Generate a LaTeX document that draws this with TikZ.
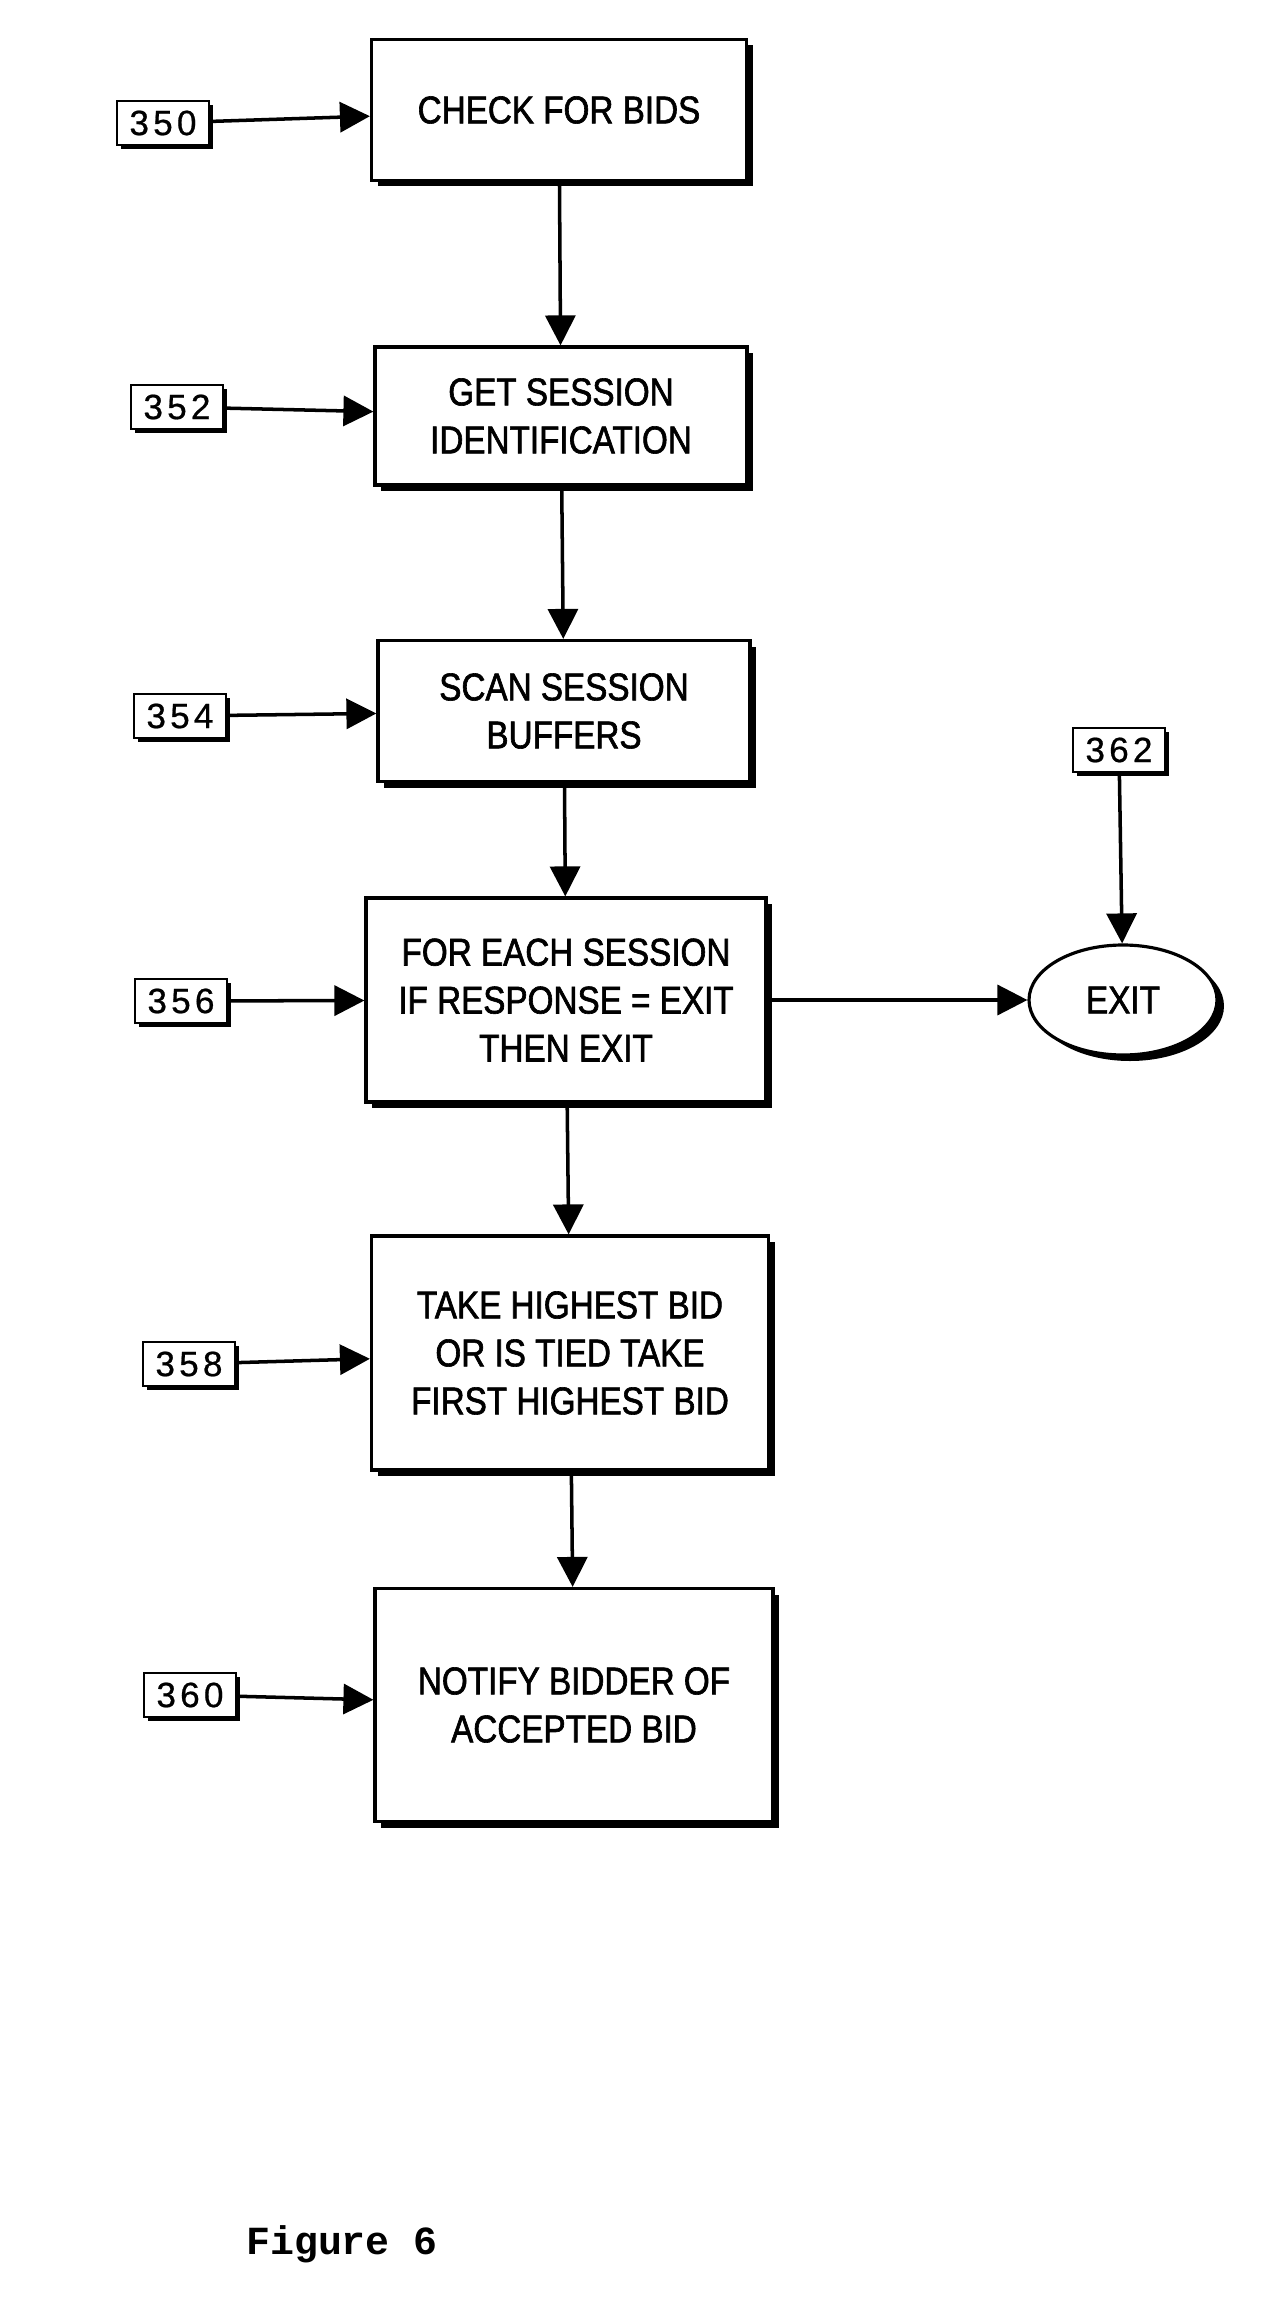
\documentclass[tikz,border=0pt]{standalone}
\usepackage{fontspec}
\setmainfont{Liberation Sans}
\newfontfamily\boxfont[FakeStretch=0.86,FakeBold=1.6]{Liberation Sans}
\newfontfamily\numfont[LetterSpace=12,FakeBold=0.6]{Liberation Sans}
\newfontfamily\figfont{Liberation Mono}
\usetikzlibrary{shapes}
\usetikzlibrary{arrows.meta}
\usetikzlibrary{shadows}
\tikzstyle{etape}=[
        rectangle,
        draw,
        line width=1.8pt,
        fill=white,
        align=center,
        font=\boxfont\fontsize{22}{27.3}\selectfont,
        drop shadow={shadow xshift=0.12cm,shadow yshift=-0.12cm,opacity=1,fill=black}
]
\tikzstyle{repere}=[
        rectangle,
        draw,
        line width=1.6pt,
        fill=white,
        minimum width=1.84cm,
        minimum height=0.88cm,
        inner sep=2pt,
        font=\numfont\fontsize{20}{20}\selectfont,
        drop shadow={shadow xshift=0.08cm,shadow yshift=-0.08cm,opacity=1,fill=black}
]
\tikzstyle{sortie}=[ellipse,draw,line width=1.8pt,fill=white,inner sep=0pt,
        font=\boxfont\fontsize{22}{27.3}\selectfont,
        drop shadow={shadow xshift=0.14cm,shadow yshift=-0.12cm,opacity=1,fill=black}]
\tikzstyle{suite}=[-{Triangle[length=0.6cm,width=0.6cm]},line width=2pt]

\begin{document}
\begin{tikzpicture}
\fill[white] (0,0) rectangle (25.6,-46.08);
\node[etape,minimum width=7.5cm,minimum height=2.82cm] (b350) at (11.18,-2.2) {CHECK FOR BIDS};
\node[etape,minimum width=7.44cm,minimum height=2.76cm] (b352) at (11.22,-8.32) {GET SESSION\\IDENTIFICATION};
\node[etape,minimum width=7.44cm,minimum height=2.82cm] (b354) at (11.28,-14.22) {SCAN SESSION\\BUFFERS};
\node[etape,minimum width=8cm,minimum height=4.08cm] (b356) at (11.32,-20) {FOR EACH SESSION\\IF RESPONSE = EXIT\\THEN EXIT};
\node[etape,minimum width=7.94cm,minimum height=4.68cm] (b358) at (11.4,-27.06) {TAKE HIGHEST BID\\OR IS TIED TAKE\\FIRST HIGHEST BID};
\node[etape,minimum width=7.96cm,minimum height=4.66cm] (b360) at (11.48,-34.1) {NOTIFY BIDDER OF\\ACCEPTED BID};
\node[sortie,minimum width=3.76cm,minimum height=2.2cm] (exit) at (22.46,-20) {EXIT};
\node[repere] (r350) at (3.26,-2.46) {350};
\node[repere] (r352) at (3.54,-8.14) {352};
\node[repere] (r354) at (3.6,-14.32) {354};
\node[repere] (r356) at (3.62,-20.02) {356};
\node[repere] (r358) at (3.78,-27.28) {358};
\node[repere] (r360) at (3.8,-33.9) {360};
\node[repere] (r362) at (22.38,-15) {362};
\node[font=\figfont\bfseries\fontsize{22.7}{22.7}\selectfont] (fig) at (6.84,-44.88) {Figure 6};
%Placement des fleches
\draw[suite] (b350) -- (b352);
\draw[suite] (b352) -- (b354);
\draw[suite] (b354) -- (b356);
\draw[suite] (b356) -- (b358);
\draw[suite] (b358) -- (b360);
\draw[suite] (b356) -- (exit);
\draw[suite] (r350) -- (b350);
\draw[suite] (r352) -- (b352);
\draw[suite] (r354) -- (b354);
\draw[suite] (r356) -- (b356);
\draw[suite] (r358) -- (b358);
\draw[suite] (r360) -- (b360);
\draw[suite] (r362) -- (exit);
\end{tikzpicture}
\end{document}
